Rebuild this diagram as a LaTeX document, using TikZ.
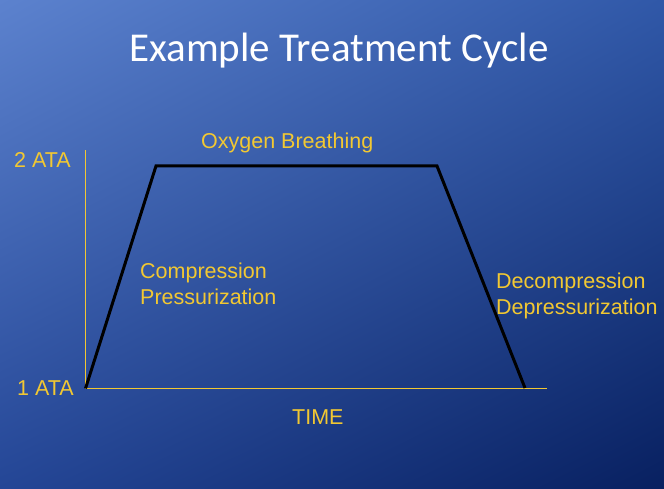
\documentclass[tikz,border=0pt]{standalone}
\usepackage{fontspec}
\usetikzlibrary{shadings}
\setmainfont{Liberation Sans}
\newfontfamily\titlefont{Carlito}
\definecolor{bgUL}{RGB}{92,130,206}
\definecolor{bgUR}{RGB}{48,88,168}
\definecolor{bgLL}{RGB}{36,70,150}
\definecolor{bgLR}{RGB}{8,32,96}
\definecolor{lbl}{RGB}{242,200,50}
\tikzset{
  lab/.style={text=lbl, inner sep=0pt, font=\fontsize{21.5}{24}\selectfont},
  axisline/.style={draw=lbl, line width=1.4pt},
  curve/.style={draw=black, line width=3pt, line join=miter},
}
\begin{document}
\begin{tikzpicture}[x=1pt,y=-1pt]
\useasboundingbox (0,0) rectangle (664,489);
\shade[shading=bilinear interpolation, upper left=bgUL, upper right=bgUR, lower left=bgLL, lower right=bgLR] (0,0) rectangle (664,489);
\node[text=white, inner sep=0pt, anchor=base, font=\titlefont\fontsize{41}{46}\selectfont] (title) at (339,62) {Example Treatment Cycle};
\coordinate (O) at (85.5,388.5);
\coordinate (ytop) at (85.5,150);
\coordinate (xend) at (547,388.5);
\draw[axisline] (ytop) -- (O) -- (xend);
\node[lab, anchor=base west] (two) at (14,168) {2 ATA};
\node[lab, anchor=base west] (one) at (17,395) {1 ATA};
\node[lab, anchor=base west] (oxy) at (201,149) {Oxygen Breathing};
\node[lab, anchor=base west] (comp) at (140,278) {Compression};
\node[lab, anchor=base west] (press) at (140,304) {Pressurization};
\node[lab, anchor=base west] (decomp) at (496,288) {Decompression};
\node[lab, anchor=base west] (depress) at (496,314) {Depressurization};
\node[lab, anchor=base west] (time) at (292,424) {TIME};
\coordinate (p2) at (156,166);
\coordinate (p3) at (437,166);
\coordinate (p4) at (525,388);
\draw[curve] (O) -- (p2) -- (p3) -- (p4);
\end{tikzpicture}
\end{document}
